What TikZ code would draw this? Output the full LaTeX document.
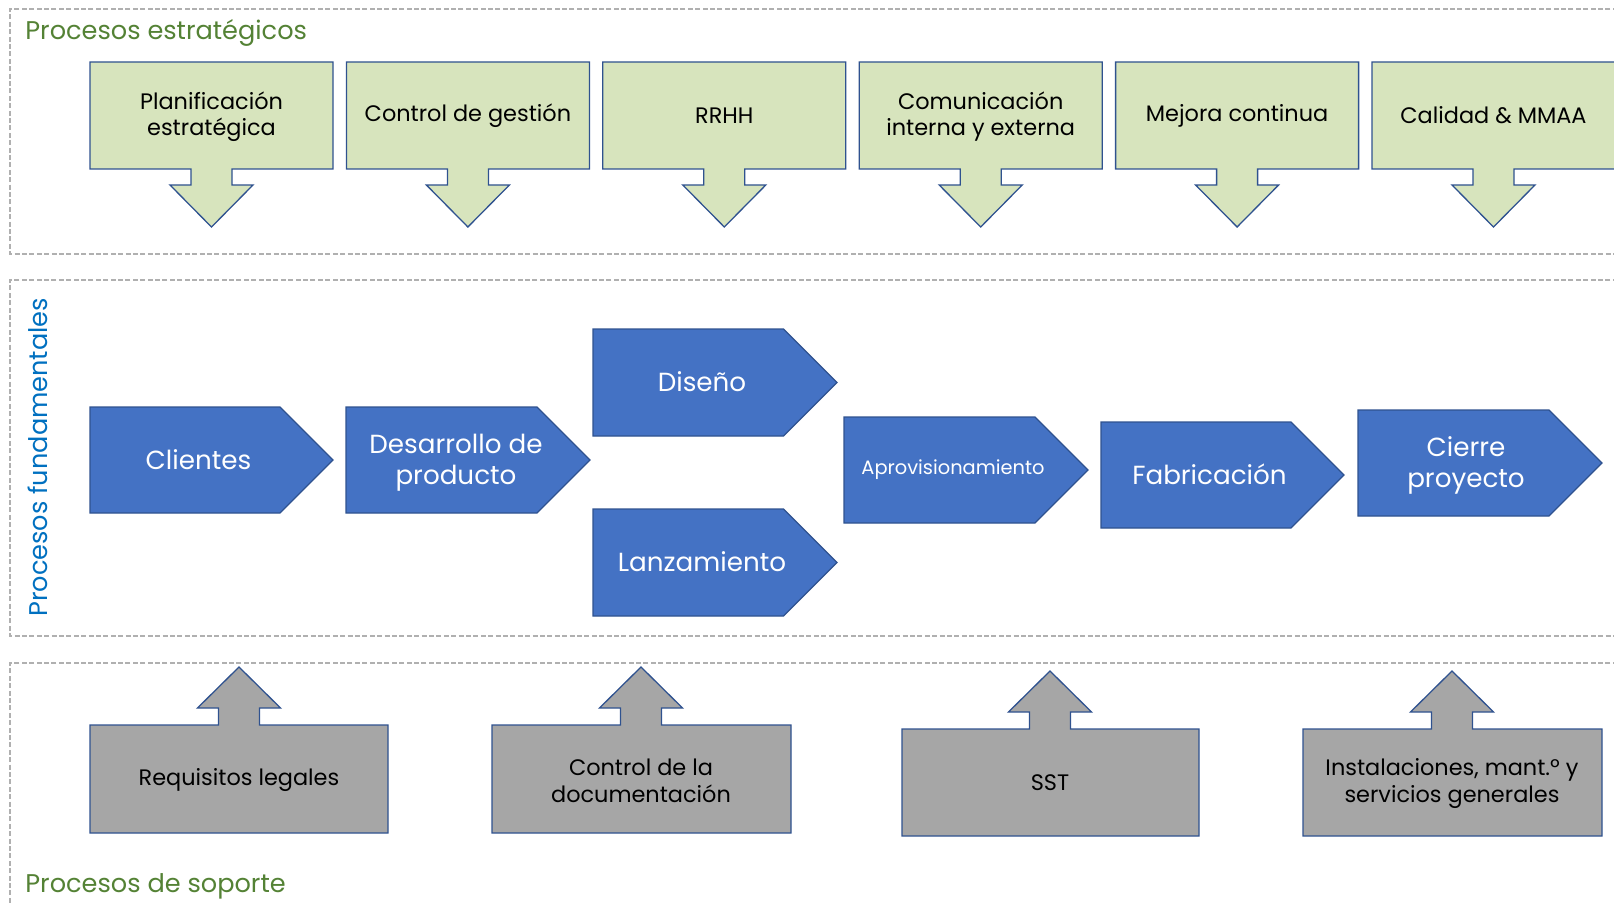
\documentclass[tikz,border=0pt]{standalone}
\usepackage{fontspec}
\setmainfont{Poppins}
\definecolor{gfill}{HTML}{D7E4BD}
\definecolor{bfill}{HTML}{4472C4}
\definecolor{bord}{HTML}{2F528F}
\definecolor{sfill}{HTML}{A6A6A6}
\definecolor{dgray}{HTML}{B0B0B0}
\definecolor{tgreen}{HTML}{548235}
\definecolor{tblue}{HTML}{0070C0}
\newcommand\dncallout[5]{%
  \path[gbox] (#1,#2) -- (#3,#2) -- (#3,#4) -- ({#5+20.5},#4) -- ({#5+20.5},{#4+16}) -- ({#5+41.5},{#4+16}) -- (#5,{#4+58}) -- ({#5-41.5},{#4+16}) -- ({#5-20.5},{#4+16}) -- ({#5-20.5},#4) -- (#1,#4) -- cycle;}
\newcommand\upcallout[5]{%
  \path[sbox] (#1,#2) -- ({#5-20.5},#2) -- ({#5-20.5},{#2-17}) -- ({#5-41.5},{#2-17}) -- (#5,{#2-58}) -- ({#5+41.5},{#2-17}) -- ({#5+20.5},{#2-17}) -- ({#5+20.5},#2) -- (#3,#2) -- (#3,#4) -- (#1,#4) -- cycle;}
\newcommand\hplate[4]{%
  \path[bbox] (#1,#2) -- ({#3-(#4-#2)/2},#2) -- (#3,{(#2+#4)/2}) -- ({#3-(#4-#2)/2},#4) -- (#1,#4) -- cycle;}
\begin{document}
\begin{tikzpicture}[x=0.5pt,y=-0.5pt,
  frame/.style={draw=dgray, line width=0.65pt, dash pattern=on 2.5pt off 1.2pt},
  gbox/.style={fill=gfill, draw=bord, line width=0.65pt, line join=miter},
  sbox/.style={fill=sfill, draw=bord, line width=0.65pt, line join=miter},
  bbox/.style={fill=bfill, draw=bord, line width=0.65pt, line join=miter},
  ttxt/.style={align=center, text=black, inner sep=0pt, font=\fontsize{11.2}{13}\selectfont},
  btxt/.style={align=center, text=white, inner sep=0pt, font=\fontsize{13.1}{15.5}\selectfont},
  stxt/.style={align=center, text=black, inner sep=0pt, font=\fontsize{11.2}{13.5}\selectfont},
  title/.style={inner sep=0pt, font=\fontsize{12.8}{15}\selectfont}]
\useasboundingbox (0,0) rectangle (1614,904);
\clip (0,0) rectangle (1614,904);
% frames
\draw[frame] (1640,9) -- (10,9) -- (10,254) -- (1640,254);
\draw[frame] (1640,280) -- (10,280) -- (10,636) -- (1640,636);
\draw[frame] (1640,663) -- (10,663) -- (10,920);
% titles
\node[title, text=tgreen, anchor=base west] (tS) at (25,40) {Procesos estratégicos};
\node[title, text=tblue, anchor=base west, rotate=90] (tF) at (47,617) {Procesos fundamentales};
\node[title, text=tgreen, anchor=base west] (tA) at (25,892) {Procesos de soporte};
% strategic
\dncallout{90}{62}{333}{169}{211.5}
\dncallout{346.4}{62}{589.4}{169}{467.9}
\dncallout{602.8}{62}{845.8}{169}{724.3}
\dncallout{859.2}{62}{1102.2}{169}{980.7}
\dncallout{1115.6}{62}{1358.6}{169}{1237.1}
\dncallout{1372}{62}{1615}{169}{1493.5}
\node[ttxt] (s1) at (211.5,116.5) {Planificación\\estratégica};
\node[ttxt] (s2) at (467.9,115.5) {Control de gestión};
\node[ttxt] (s3) at (724.3,115.5) {RRHH};
\node[ttxt] (s4) at (980.7,116.5) {Comunicación\\interna y externa};
\node[ttxt] (s5) at (1237.1,115.5) {Mejora continua};
\node[ttxt] (s6) at (1493.5,115.5) {Calidad \& MMAA};
% fundamental
\hplate{90}{407}{333}{513}
\hplate{346}{407}{590}{513}
\hplate{593}{329}{837}{436}
\hplate{593}{509}{837}{616}
\hplate{844}{417}{1088}{523}
\hplate{1101}{422}{1344}{528}
\hplate{1358}{410}{1602}{516}
\node[btxt] (f1) at (198.5,459.5) {Clientes};
\node[btxt] (f2) at (456,463) {Desarrollo de\\producto};
\node[btxt] (f3) at (702,382) {Diseño};
\node[btxt] (f4) at (702,562) {Lanzamiento};
\node[btxt, font=\fontsize{9.7}{11}\selectfont] (f5) at (953,470) {Aprovisionamiento};
\node[btxt] (f6) at (1209.5,474) {Fabricación};
\node[btxt] (f7) at (1466,465) {Cierre\\proyecto};
% support
\upcallout{90}{725}{388}{833}{239}
\upcallout{492}{725}{791}{833}{641}
\upcallout{902}{729}{1199}{836}{1050}
\upcallout{1303}{729}{1602}{836}{1452}
\node[stxt] (a1) at (239,780) {Requisitos legales};
\node[stxt] (a2) at (641,780.5) {Control de la\\documentación};
\node[stxt] (a3) at (1050,782.5) {SST};
\node[stxt] (a4) at (1452,783.5) {Instalaciones, mant.º y\\servicios generales};
\end{tikzpicture}
\end{document}
